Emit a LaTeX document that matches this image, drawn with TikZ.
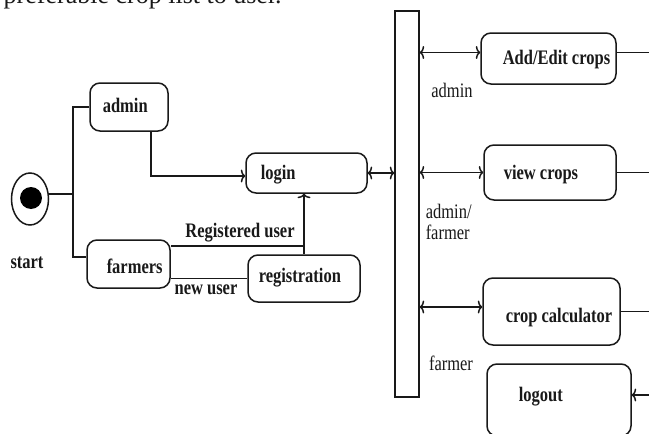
\documentclass[tikz,border=0pt]{standalone}
\usepackage{fontspec}
\usepackage{graphicx}
\setmainfont{Liberation Serif}
\usetikzlibrary{arrows.meta,shapes.geometric}
\newcommand{\talltext}[1]{\scalebox{1}[1.25]{#1}}
\begin{document}
\begin{tikzpicture}[x=1pt,y=-1pt,
  line width=1.5pt, color=black!90,
  box/.style={draw, rounded corners=10pt, inner sep=0pt},
  btxt/.style={anchor=west, inner sep=0pt, font=\fontsize{16.5}{19}\bfseries\selectfont},
  lbl/.style={inner sep=0pt, font=\fontsize{16.5}{17}\selectfont},
  blbl/.style={inner sep=0pt, font=\fontsize{16.5}{19}\bfseries\selectfont},
  tip/.style={-{To[length=4.5pt,width=13pt]}},
  tips/.style={{To[length=4.5pt,width=13pt]}-{To[length=4.5pt,width=13pt]}},
]
\useasboundingbox (0,0) rectangle (649,434);
\clip (0,0) rectangle (649,434);

\node[lbl, anchor=base west, font=\fontsize{26}{30}\selectfont] (top) at (3,3.5) {preferable crop list to user.};

% start
\node[draw, ellipse, minimum width=37pt, minimum height=52pt, inner sep=0pt] (start) at (30,199) {};
\node[circle, fill=black, minimum size=22pt, inner sep=0pt] (dot) at (31,198) {};
\node[blbl] (start-l) at (27,263) {\talltext{start}};

% boxes
\node[box, minimum width=78pt, minimum height=48pt] (admin) at (129,107) {};
\node[btxt] (admin-t) at (102,105) {\talltext{admin}};
\node[box, minimum width=121pt, minimum height=40pt] (login) at (306.5,173) {};
\node[btxt] (login-t) at (260,175) {\talltext{login}};
\node[box, minimum width=83pt, minimum height=48pt] (farmers) at (128.5,264) {};
\node[btxt] (farmers-t) at (106,266) {\talltext{farmers}};
\node[box, minimum width=112pt, minimum height=47pt] (registration) at (304,278.5) {};
\node[btxt] (registration-t) at (258,278) {\talltext{registration}};
\node[draw, inner sep=0pt, minimum width=24pt, minimum height=386pt] (bar) at (407,204) {};
\node[box, minimum width=135pt, minimum height=51pt] (addedit) at (548.5,58.5) {};
\node[btxt] (addedit-t) at (502,60) {\talltext{Add/Edit crops}};
\node[box, minimum width=132pt, minimum height=55pt] (view) at (550,172.5) {};
\node[btxt] (view-t) at (503,175) {\talltext{view crops}};
\node[box, minimum width=137pt, minimum height=67pt] (calc) at (551.5,311.5) {};
\node[btxt] (calc-t) at (505,318) {\talltext{crop calculator}};
\node[box, minimum width=144pt, minimum height=72pt] (logout) at (559,400) {};
\node[btxt] (logout-t) at (518,397) {\talltext{logout}};

% left connectors
\coordinate (vx) at (73,194);
\coordinate (edge) at (649,0);
\draw (start.east |- vx) -- (vx);
\draw (admin.west) -| (vx);
\draw (vx) |- ([yshift=7pt]farmers.west);
\draw[tip] ([xshift=22pt]admin.south) |- ([yshift=-3pt]login.west);
\draw[tips] (login.east) -- (login.east -| bar.west);
\draw ([yshift=18pt]farmers.east) -- ([yshift=18pt]farmers.east -| registration.north);
\draw[tip] (registration.north) -- (registration.north |- login.south);
\draw (farmers.east |- registration.west) -- (registration.west);

% right connectors
\draw[tips] ([yshift=6pt]addedit.west -| bar.east) -- ([yshift=6pt]addedit.west);
\draw ([yshift=6pt]addedit.east) -- ([yshift=6pt]addedit.east -| edge);
\draw[tips] (view.west -| bar.east) -- (view.west);
\draw (view.east) -- (view.east -| edge);
\draw[tips] ([yshift=4.5pt]calc.west -| bar.east) -- ([yshift=4.5pt]calc.west);
\draw (calc.east) -- (calc.east -| edge);
\draw[tip] ([yshift=5pt]logout.east -| edge) -- ([yshift=5pt]logout.east);

% labels
\node[blbl] (reg-l) at (240,233) {\talltext{Registered user}};
\node[blbl] (new-l) at (206,290) {\talltext{new user}};
\node[lbl] (admin-l) at (452,90) {\talltext{admin}};
\node[lbl, anchor=west] (af-l) at (425,225) {\talltext{\begin{tabular}{@{}l@{}}admin/\\farmer\end{tabular}}};
\node[lbl] (farmer-l) at (451,363) {\talltext{farmer}};
\end{tikzpicture}
\end{document}
